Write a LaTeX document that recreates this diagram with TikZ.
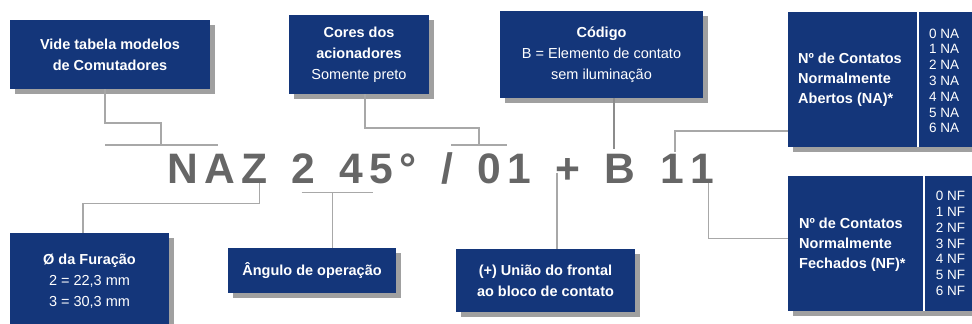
\documentclass[tikz,border=0pt]{standalone}
\usepackage{fontspec}
\setmainfont{Liberation Sans}
\usetikzlibrary{shadows}
\definecolor{boxblue}{RGB}{20,54,122}
\definecolor{shadowgray}{RGB}{160,160,160}
\definecolor{linegray}{RGB}{168,168,168}
\definecolor{darkline}{RGB}{140,140,140}
\definecolor{codegray}{RGB}{102,102,102}
\newcommand{\tk}{\kern6.3pt}
\newcommand{\cgap}{\hspace*{18.14pt}}
\begin{document}
\begin{tikzpicture}[x=1pt,y=-1pt,
  box/.style={fill=boxblue, text=white, inner sep=0pt, align=center,
    font=\fontsize{14.5}{21}\selectfont,
    drop shadow={shadow xshift=5pt, shadow yshift=-5pt, fill=shadowgray, opacity=1}},
  conn/.style={draw=linegray, line width=1.2pt},
  divider/.style={draw=white, line width=2.5pt},
  sidetext/.style={anchor=west, inner sep=0pt, align=left, text=white,
    font=\bfseries\fontsize{14.5}{20}\selectfont},
  listtext/.style={anchor=west, inner sep=0pt, align=left, text=white,
    font=\fontsize{13.5}{15.8}\selectfont},
  codetext/.style={anchor=base west, inner sep=0pt, text=codegray,
    font=\bfseries\fontsize{42.6}{50}\selectfont}]
\useasboundingbox (0,0) rectangle (972,324);

% code line
\node[codetext] (code) at (166.9,183.5)
  {N\tk A\tk Z\tk\cgap 2\tk\cgap 4\tk 5\tk °\tk\cgap /\tk\cgap 0\tk 1\tk\cgap +\tk\cgap B\tk\cgap 1\tk 1};

% boxes (positions)
\path (110,54.5) coordinate (pvide)
      (359,54.6) coordinate (pcores)
      (601.5,54.3) coordinate (pcodigo)
      (884.15,79.2) coordinate (pna)
      (884.15,243.35) coordinate (pnf)
      (89.5,281.35) coordinate (pfuro)
      (312,270.8) coordinate (pangulo)
      (545.5,280.35) coordinate (puniao);

% connector corner points
\coordinate (v1) at (105,123);
\coordinate (v2) at (161,123);
\coordinate (v3) at (161,145);
\coordinate (b1l) at (105,145);
\coordinate (b1r) at (218,145);
\coordinate (c1) at (365,128);
\coordinate (c2) at (479,128);
\coordinate (c3) at (479,145);
\coordinate (b2l) at (451,145);
\coordinate (b2r) at (507,145);
\coordinate (k1) at (614,149);
\coordinate (a1) at (675,152);
\coordinate (a2) at (675,131);
\coordinate (f1) at (708.7,183);
\coordinate (f2) at (708.7,238.7);
\coordinate (o1) at (259.3,183);
\coordinate (o2) at (259.3,203.3);
\coordinate (o3) at (83,203.3);
\coordinate (g1) at (332.7,192.7);
\coordinate (b3l) at (301.7,192.7);
\coordinate (b3r) at (373.3,192.7);
\coordinate (u1) at (557,172.7);
\coordinate (nadiv) at (918,0);
\coordinate (nfdiv) at (924,0);

% boxes
\node[box, minimum width=200pt, minimum height=69pt] (vide) at (pvide)
  {\bfseries Vide tabela modelos\\\bfseries de Comutadores};
\node[box, minimum width=140pt, minimum height=79.3pt] (cores) at (pcores)
  {\bfseries Cores dos\\\bfseries acionadores\\Somente preto};
\node[box, minimum width=203pt, minimum height=86.7pt] (codigo) at (pcodigo)
  {\bfseries Código\\B = Elemento de contato\\sem iluminação};
\node[box, minimum width=191.7pt, minimum height=135pt] (na) at (pna) {};
\node[box, minimum width=191.7pt, minimum height=134.7pt] (nf) at (pnf) {};
\node[box, minimum width=159pt, minimum height=97.3pt] (furo) at (pfuro)
  {\bfseries Ø da Furação\\2 = 22,3 mm\\3 = 30,3 mm};
\node[box, minimum width=168pt, minimum height=45pt] (angulo) at (pangulo)
  {\bfseries Ângulo de operação};
\node[box, minimum width=179pt, minimum height=62.7pt] (uniao) at (puniao)
  {\bfseries (+) União do frontal\\\bfseries ao bloco de contato};

% dividers and texts inside NA / NF
\draw[divider] (na.north -| nadiv) -- (na.south -| nadiv);
\draw[divider] (nf.north -| nfdiv) -- (nf.south -| nfdiv);
\node[sidetext] (natext) at (798,80) {Nº de Contatos\\Normalmente\\Abertos (NA)*};
\node[listtext] (nalist) at (929,80.8) {0 NA\\1 NA\\2 NA\\3 NA\\4 NA\\5 NA\\6 NA};
\node[sidetext] (nftext) at (799,244.4) {Nº de Contatos\\Normalmente\\Fechados (NF)*};
\node[listtext] (nflist) at (935.7,243.4) {0 NF\\1 NF\\2 NF\\3 NF\\4 NF\\5 NF\\6 NF};

% connectors
\draw[conn] (vide.south -| v1) -- (v1) -- (v2) -- (v3);
\draw[conn] (b1l) -- (b1r);
\draw[conn] (cores.south -| c1) -- (c1) -- (c2) -- (c3);
\draw[conn] (b2l) -- (b2r);
\draw[conn, draw=darkline] (codigo.south -| k1) -- (k1);
\draw[conn] (a1) -- (a2) -- (a2 -| na.west);
\draw[conn] (f1) -- (f2) -- (f2 -| nf.west);
\draw[conn] (o1) -- (o2) -- (o3) -- (o3 |- furo.north);
\draw[conn] (b3l) -- (b3r);
\draw[conn] (g1) -- (g1 |- angulo.north);
\draw[conn] (u1) -- (u1 |- uniao.north);
\end{tikzpicture}
\end{document}
